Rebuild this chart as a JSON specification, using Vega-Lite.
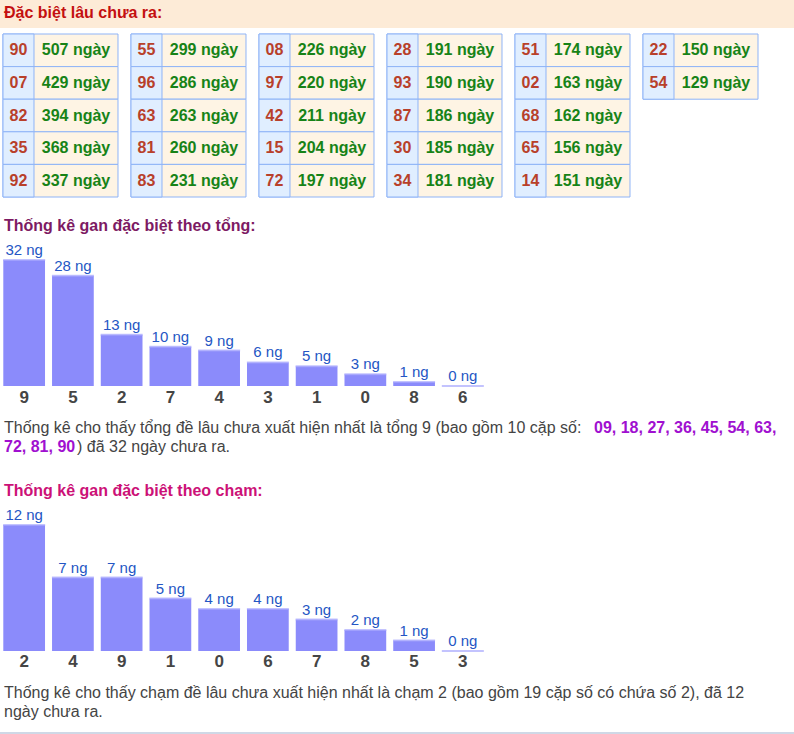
{
  "$schema": "https://vega.github.io/schema/vega-lite/v6.json",
  "width": 794,
  "height": 734,
  "padding": 0,
  "autosize": {"type": "none"},
  "background": "white",
  "config": {"view": {"stroke": null}, "font": "Liberation Sans", "text": {"font": "Liberation Sans"}},
  "datasets": {
    "tbl": [
      {"c": 0, "r": 0, "n": "90", "d": 507}, {"c": 0, "r": 1, "n": "07", "d": 429}, {"c": 0, "r": 2, "n": "82", "d": 394}, {"c": 0, "r": 3, "n": "35", "d": 368}, {"c": 0, "r": 4, "n": "92", "d": 337},
      {"c": 1, "r": 0, "n": "55", "d": 299}, {"c": 1, "r": 1, "n": "96", "d": 286}, {"c": 1, "r": 2, "n": "63", "d": 263}, {"c": 1, "r": 3, "n": "81", "d": 260}, {"c": 1, "r": 4, "n": "83", "d": 231},
      {"c": 2, "r": 0, "n": "08", "d": 226}, {"c": 2, "r": 1, "n": "97", "d": 220}, {"c": 2, "r": 2, "n": "42", "d": 211}, {"c": 2, "r": 3, "n": "15", "d": 204}, {"c": 2, "r": 4, "n": "72", "d": 197},
      {"c": 3, "r": 0, "n": "28", "d": 191}, {"c": 3, "r": 1, "n": "93", "d": 190}, {"c": 3, "r": 2, "n": "87", "d": 186}, {"c": 3, "r": 3, "n": "30", "d": 185}, {"c": 3, "r": 4, "n": "34", "d": 181},
      {"c": 4, "r": 0, "n": "51", "d": 174}, {"c": 4, "r": 1, "n": "02", "d": 163}, {"c": 4, "r": 2, "n": "68", "d": 162}, {"c": 4, "r": 3, "n": "65", "d": 156}, {"c": 4, "r": 4, "n": "14", "d": 151},
      {"c": 5, "r": 0, "n": "22", "d": 150}, {"c": 5, "r": 1, "n": "54", "d": 129}
    ],
    "tong": [
      {"k": "9", "v": 32}, {"k": "5", "v": 28}, {"k": "2", "v": 13}, {"k": "7", "v": 10}, {"k": "4", "v": 9},
      {"k": "3", "v": 6}, {"k": "1", "v": 5}, {"k": "0", "v": 3}, {"k": "8", "v": 1}, {"k": "6", "v": 0}
    ],
    "cham": [
      {"k": "2", "v": 12}, {"k": "4", "v": 7}, {"k": "9", "v": 7}, {"k": "1", "v": 5}, {"k": "0", "v": 4},
      {"k": "6", "v": 4}, {"k": "7", "v": 3}, {"k": "8", "v": 2}, {"k": "5", "v": 1}, {"k": "3", "v": 0}
    ]
  },
  "resolve": {"scale": {"x": "independent", "y": "independent"}},
  "layer": [
    {
      "data": {"values": [{}]},
      "mark": {"type": "rect", "fill": "#fdebd7"},
      "encoding": {"x": {"value": 0}, "x2": {"value": 794}, "y": {"value": 0}, "y2": {"value": 28}}
    },
    {
      "data": {"values": [{}]},
      "mark": {"type": "text", "align": "left", "baseline": "alphabetic", "fontSize": 16, "fontWeight": "bold", "color": "#c41010"},
      "encoding": {"x": {"value": 4}, "y": {"value": 17.5}, "text": {"value": "Đặc biệt lâu chưa ra:"}}
    },
    {
      "data": {"name": "tbl"},
      "transform": [{"calculate": "datum.d + ' ngày'", "as": "dl"}],
      "encoding": {
        "x": {"field": "c", "type": "ordinal", "axis": null, "scale": {"range": [3, 758], "paddingInner": 0.1016, "paddingOuter": 0}},
        "y": {"field": "r", "type": "ordinal", "axis": null, "scale": {"range": [34, 197], "paddingInner": 0, "paddingOuter": 0}}
      },
      "layer": [
        {"mark": {"type": "rect", "fill": "#fef4e4", "stroke": "#8fb4f7", "strokeWidth": 1}},
        {"mark": {"type": "rect", "fill": "#e0eeff", "stroke": "#8fb4f7", "strokeWidth": 1, "width": 31, "xOffset": -42}},
        {"mark": {"type": "text", "fontSize": 16, "fontWeight": "bold", "color": "#b8402a", "baseline": "middle", "xOffset": -42}, "encoding": {"text": {"field": "n"}}},
        {"mark": {"type": "text", "fontSize": 16, "fontWeight": "bold", "color": "#178317", "baseline": "middle", "xOffset": 15.5}, "encoding": {"text": {"field": "dl"}}}
      ]
    },
    {
      "data": {"values": [{}]},
      "mark": {"type": "text", "align": "left", "baseline": "alphabetic", "fontSize": 16, "fontWeight": "bold", "color": "#7d1a63"},
      "encoding": {"x": {"value": 4}, "y": {"value": 231}, "text": {"value": "Thống kê gan đặc biệt theo tổng:"}}
    },
    {
      "data": {"name": "tong"},
      "transform": [{"calculate": "datum.v + ' ng'", "as": "lab"}],
      "encoding": {
        "x": {"field": "k", "type": "nominal", "sort": null, "axis": null, "scale": {"range": [3.3, 483.7], "paddingInner": 0.144, "paddingOuter": 0}},
        "y": {"field": "v", "type": "quantitative", "axis": null, "scale": {"domain": [0, 32], "range": [386, 260], "nice": false}}
      },
      "layer": [
        {"mark": {"type": "bar", "color": "#8b8bfb"}},
        {"mark": {"type": "tick", "color": "#a9a9fd", "thickness": 2, "size": 42}},
        {"mark": {"type": "text", "baseline": "alphabetic", "dy": -5, "fontSize": 15, "color": "#2456c4"}, "encoding": {"text": {"field": "lab"}}},
        {"mark": {"type": "text", "baseline": "alphabetic", "fontSize": 17, "fontWeight": "bold", "color": "#454545"}, "encoding": {"y": {"value": 402.5}, "text": {"field": "k"}}}
      ]
    },
    {
      "data": {"values": [{}]},
      "mark": {"type": "text", "align": "left", "baseline": "alphabetic", "fontSize": 16, "color": "#444444"},
      "encoding": {"x": {"value": 4}, "y": {"value": 433}, "text": {"value": "Thống kê cho thấy tổng đề lâu chưa xuất hiện nhất là tổng 9 (bao gồm 10 cặp số: "}}
    },
    {
      "data": {"values": [{}]},
      "mark": {"type": "text", "align": "left", "baseline": "alphabetic", "fontSize": 16, "fontWeight": "bold", "color": "#a010d0"},
      "encoding": {"x": {"value": 594}, "y": {"value": 433}, "text": {"value": "09, 18, 27, 36, 45, 54, 63,"}}
    },
    {
      "data": {"values": [{}]},
      "mark": {"type": "text", "align": "left", "baseline": "alphabetic", "fontSize": 16, "fontWeight": "bold", "color": "#a010d0"},
      "encoding": {"x": {"value": 4}, "y": {"value": 452}, "text": {"value": "72, 81, 90"}}
    },
    {
      "data": {"values": [{}]},
      "mark": {"type": "text", "align": "left", "baseline": "alphabetic", "fontSize": 16, "color": "#444444"},
      "encoding": {"x": {"value": 77}, "y": {"value": 452}, "text": {"value": ") đã 32 ngày chưa ra."}}
    },
    {
      "data": {"values": [{}]},
      "mark": {"type": "text", "align": "left", "baseline": "alphabetic", "fontSize": 16, "fontWeight": "bold", "color": "#cc1177"},
      "encoding": {"x": {"value": 4}, "y": {"value": 496}, "text": {"value": "Thống kê gan đặc biệt theo chạm:"}}
    },
    {
      "data": {"name": "cham"},
      "transform": [{"calculate": "datum.v + ' ng'", "as": "lab"}],
      "encoding": {
        "x": {"field": "k", "type": "nominal", "sort": null, "axis": null, "scale": {"range": [3.3, 483.7], "paddingInner": 0.144, "paddingOuter": 0}},
        "y": {"field": "v", "type": "quantitative", "axis": null, "scale": {"domain": [0, 12], "range": [651, 525], "nice": false}}
      },
      "layer": [
        {"mark": {"type": "bar", "color": "#8b8bfb"}},
        {"mark": {"type": "tick", "color": "#a9a9fd", "thickness": 2, "size": 42}},
        {"mark": {"type": "text", "baseline": "alphabetic", "dy": -5, "fontSize": 15, "color": "#2456c4"}, "encoding": {"text": {"field": "lab"}}},
        {"mark": {"type": "text", "baseline": "alphabetic", "fontSize": 17, "fontWeight": "bold", "color": "#454545"}, "encoding": {"y": {"value": 667}, "text": {"field": "k"}}}
      ]
    },
    {
      "data": {"values": [{}]},
      "mark": {"type": "text", "align": "left", "baseline": "alphabetic", "fontSize": 16, "color": "#444444"},
      "encoding": {"x": {"value": 4}, "y": {"value": 698}, "text": {"value": "Thống kê cho thấy chạm đề lâu chưa xuất hiện nhất là chạm 2 (bao gồm 19 cặp số có chứa số 2), đã 12"}}
    },
    {
      "data": {"values": [{}]},
      "mark": {"type": "text", "align": "left", "baseline": "alphabetic", "fontSize": 16, "color": "#444444"},
      "encoding": {"x": {"value": 4}, "y": {"value": 717}, "text": {"value": "ngày chưa ra."}}
    },
    {
      "data": {"values": [{}]},
      "mark": {"type": "rule", "color": "#cfd8e6", "strokeWidth": 2},
      "encoding": {"x": {"value": 0}, "x2": {"value": 794}, "y": {"value": 733}}
    }
  ]
}
